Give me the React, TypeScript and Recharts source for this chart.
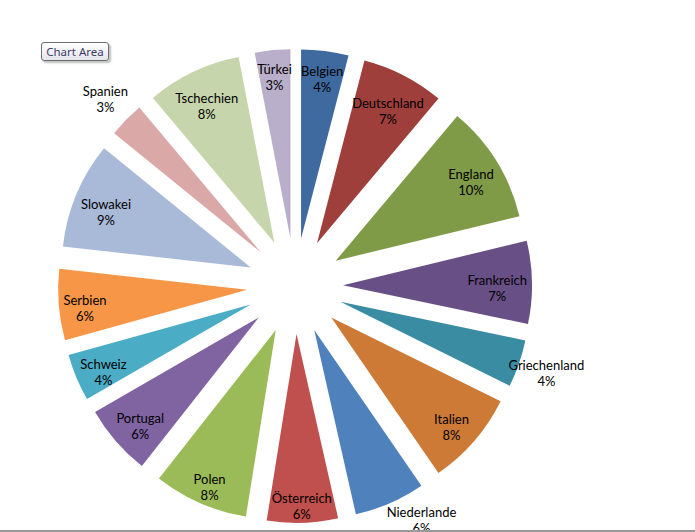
import React from "react";
import { PieChart, Pie, Sector } from "recharts";

// Länder im Uhrzeigersinn, beginnend oben
const laender = [
  "Belgien",
  "Deutschland",
  "England",
  "Frankreich",
  "Griechenland",
  "Italien",
  "Niederlande",
  "Österreich",
  "Polen",
  "Portugal",
  "Schweiz",
  "Serbien",
  "Slowakei",
  "Spanien",
  "Tschechien",
  "Türkei",
];

const anteile = [4, 7, 10, 7, 4, 8, 6, 6, 8, 6, 4, 6, 9, 3, 8, 3];

const farben = [
  "#3e6a9f",
  "#9e3f3c",
  "#7f9b47",
  "#684f86",
  "#3a8ca3",
  "#cd7a37",
  "#4f81bd",
  "#c0504d",
  "#9bbb59",
  "#8064a2",
  "#4bacc6",
  "#f79646",
  "#a9b9d8",
  "#d9a8a7",
  "#c7d5ac",
  "#baafcb",
];

// Beschriftung ausserhalb des Segments
const aussenLabels = ["Griechenland", "Niederlande", "Spanien"];

const data = laender.map((name, i) => ({ name, wert: anteile[i] }));

const RADIAN = Math.PI / 180;
const EXPLODE = 48;

function renderSlice(props: any) {
  const { cx, cy, midAngle, outerRadius, startAngle, endAngle, percent, index } =
    props;
  const name = laender[index];
  const pct = `${Math.round(percent * 100)}%`;
  const ux = Math.cos(-midAngle * RADIAN);
  const uy = Math.sin(-midAngle * RADIAN);
  const sx = cx + EXPLODE * ux;
  const sy = cy + EXPLODE * uy;

  let lx: number;
  let ly: number;
  if (aussenLabels.includes(name)) {
    const r = 266;
    lx = cx + r * ux;
    ly = cy + r * uy;
    if (ly > 520) {
      // am unteren Rand halten
      ly = 520;
      lx = cx + Math.sign(ux) * Math.sqrt(r * r - (ly - cy) * (ly - cy));
    }
  } else {
    // Textbox so weit nach aussen, bis die äussere Ecke den Bogen berührt
    const L = EXPLODE + outerRadius - 3;
    const hw = (Math.max(name.length, pct.length) * 6.2) / 2;
    const hh = 16;
    const c1 = Math.sign(ux) * hw;
    const c2 = Math.sign(uy) * hh;
    const dot = ux * c1 + uy * c2;
    const t = -dot + Math.sqrt(dot * dot - (c1 * c1 + c2 * c2) + L * L);
    lx = cx + t * ux;
    ly = cy + t * uy + 6;
  }

  return (
    <g>
      <Sector
        cx={sx}
        cy={sy}
        innerRadius={0}
        outerRadius={outerRadius}
        startAngle={startAngle}
        endAngle={endAngle}
        fill={farben[index]}
        stroke="none"
      />
      <text
        textAnchor="middle"
        fill="#000"
        style={{ fontFamily: "Lato, 'Noto Sans', sans-serif", fontSize: 13 }}
      >
        <tspan x={lx} y={ly - 3.5}>
          {name}
        </tspan>
        <tspan x={lx} y={ly + 12.5}>
          {pct}
        </tspan>
      </text>
    </g>
  );
}

export default function App() {
  return (
    <div
      style={{
        position: "absolute",
        left: 0,
        top: 0,
        width: 695,
        height: 532,
        background: "#fff",
        overflow: "hidden",
      }}
    >
      <PieChart
        width={695}
        height={532}
        margin={{ top: 0, right: 0, bottom: 0, left: 0 }}
      >
        <Pie
          data={data}
          dataKey="wert"
          nameKey="name"
          cx={295}
          cy={286}
          outerRadius={189}
          startAngle={90}
          endAngle={-270}
          fill="none"
          stroke="none"
          label={renderSlice}
          labelLine={false}
          isAnimationActive={false}
        />
      </PieChart>
      <div
        style={{
          position: "absolute",
          left: 41,
          top: 42,
          width: 66,
          height: 17,
          border: "1px solid #6e6e6e",
          borderRadius: 3,
          background: "linear-gradient(#ffffff, #e4e4ec)",
          boxShadow: "2px 2px 2px rgba(0,0,0,0.25)",
          fontFamily: "'Noto Sans', sans-serif",
          fontSize: 11.5,
          lineHeight: "17px",
          color: "#3c3c66",
          textAlign: "center",
        }}
      >
        Chart Area
      </div>
      <div
        style={{
          position: "absolute",
          left: 0,
          top: 530,
          width: 695,
          height: 2,
          background: "#9a9a9a",
        }}
      />
    </div>
  );
}
